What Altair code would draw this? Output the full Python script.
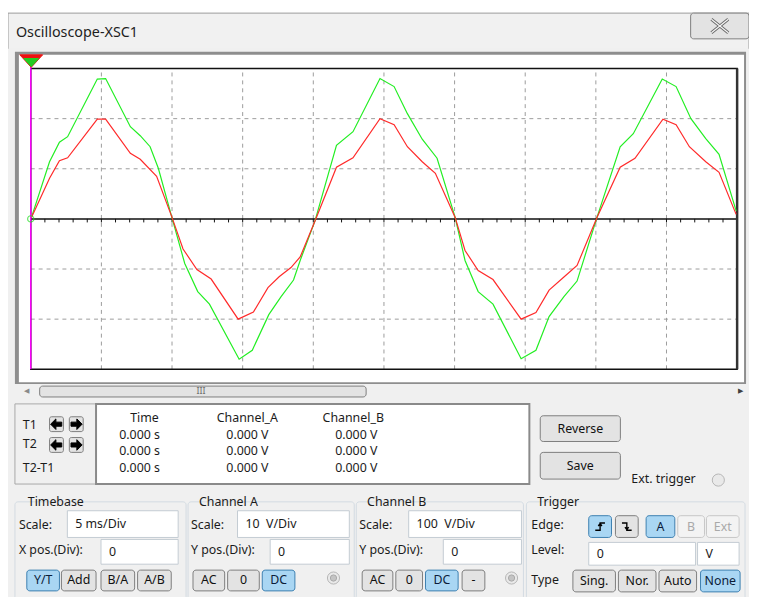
import altair as alt
import pandas as pd

# ---------------- waveform readings (time in ms, value in divisions) -------------
# Channel A (red trace)
t_a = [0.05, 1.33, 2.03, 2.61, 4.71, 5.30, 7.05, 7.75, 8.91, 9.96,
       10.78, 11.76, 12.77, 14.68, 15.76, 16.79, 17.60, 18.42, 19.07, 20.12,
       21.64, 22.81, 24.72, 25.72, 26.66, 27.71, 28.64, 30.04,
       30.74, 31.67, 32.72, 34.71, 35.76, 36.69, 37.74, 38.67, 40.08,
       41.72, 42.77, 44.75, 45.68, 46.62, 47.78, 48.72, 49.93]
v_a = [0.03, 0.81, 1.16, 1.22, 1.99, 1.99, 1.31, 1.19, 0.85, 0.06,
       -0.60, -1.01, -1.20, -2.00, -1.86, -1.37, -1.15, -0.97, -0.76, -0.04,
       1.03, 1.22, 2.00, 1.88, 1.44, 1.14, 0.91, 0.03,
       -0.63, -1.03, -1.21, -2.00, -1.87, -1.42, -1.16, -0.93, 0.03,
       1.03, 1.21, 1.99, 1.88, 1.44, 1.14, 0.93, 0.09]
# Channel B (green trace)
t_b = [0.05, 1.33, 2.03, 2.61, 4.71, 5.30, 7.05, 7.75, 8.45, 9.03, 9.96,
       10.90, 11.82, 12.65, 14.75, 15.68, 16.85, 17.72, 18.60, 19.07, 20.12,
       21.64, 22.81, 24.72, 25.72, 26.66, 27.71, 28.76, 30.04,
       30.74, 31.67, 32.72, 34.71, 35.76, 36.69, 37.74, 38.67, 40.08,
       41.72, 42.65, 44.70, 45.68, 46.73, 47.78, 48.72, 49.93]
v_b = [0.03, 1.14, 1.53, 1.64, 2.79, 2.80, 1.84, 1.66, 1.44, 1.01, 0.06,
       -0.89, -1.45, -1.70, -2.80, -2.62, -1.91, -1.55, -1.22, -0.83, -0.04,
       1.47, 1.74, 2.80, 2.64, 2.10, 1.59, 1.21, 0.03,
       -0.83, -1.45, -1.70, -2.79, -2.62, -1.95, -1.55, -1.24, 0.03,
       1.44, 1.70, 2.79, 2.64, 2.00, 1.60, 1.29, 0.16]

grid_t = [5, 10, 15, 20, 25, 30, 35, 40, 45]
grid_v = [-2, -1, 1, 2]
tick_t = list(range(0, 51))

# readout table text
col_heads = ["Time", "Channel_A", "Channel_B"]
row_time = ["0.000 s", "0.000 s", "0.000 s"]
row_a = ["0.000 V", "0.000 V", "0.000 V"]
row_b = ["0.000 V", "0.000 V", "0.000 V"]

NB = "\u00a0"

# ---------------- geometry --------------------------------------------------------
W, H = 749, 589
OFF = 8
PX0, PX1 = 31 - OFF, 745 - OFF
PY0 = 218 - OFF
PPD = 304 / 6.0
PPM = (PX1 - PX0) / 50.0
xs = alt.Scale(domain=[-PX0 / PPM, 50 + (W - PX1) / PPM], nice=False, zero=False)
ys = alt.Scale(domain=[-(H - PY0) / PPD, PY0 / PPD], nice=False, zero=False)
FONT = "Noto Sans"

rects, brects, texts, ctexts = [], [], [], []


def R(x1, y1, x2, y2, fill, stroke="transparent", sw=1, lst=None):
    (rects if lst is None else lst).append(dict(x=x1 - OFF, x2=x2 - OFF, y=y1 - OFF, y2=y2 - OFF,
                                                fill=fill, stroke=stroke, sw=sw))


def T(x, y, s, color="#1b1b1b", size=12.5, center=False):
    (ctexts if center else texts).append(dict(x=x - OFF, y=y - OFF, text=s, color=color, size=size))


def B(x1, y1, x2, y2, label, state="n"):
    fill, stroke, tc = {"n": ("#e3e3e3", "#7d7d7d", "#111111"),
                        "on": ("#a9d6f3", "#3d7fb0", "#0b1c3a"),
                        "off": ("#f3f3f3", "#c6c6c6", "#a9a9a9")}[state]
    R(x1, y1, x2, y2, fill, stroke, 1, brects)
    if label:
        T((x1 + x2) / 2, (y1 + y2) / 2, label, tc, 12.5, center=True)


# window chrome
R(8, 10, 757, 48, "#f1f1f1", "#9a9a9a")
R(8, 46, 757, 605, "#f0f0f0")
R(15, 49, 754, 385, "#8e8e8e")
R(19, 52, 752, 383, "#ffffff")
R(20, 386, 752, 400, "#f0f0f0")
# readout panel
R(15, 405, 97, 486, "#f0f0f0", "#a8a8a8")
R(97, 405, 535, 486, "#ffffff", "#8a8a8a", 2)
# group boxes
for gx1, gx2 in [(15, 188), (190, 358), (360, 529), (532, 753)]:
    R(gx1, 504, gx2, 603, "transparent", "#d2dbe2", 1, brects)
# group labels backgrounds
for lx1, lx2 in [(25, 90), (198, 270), (368, 440), (540, 590)]:
    R(lx1, 497, lx2, 511, "#f0f0f0")
# inputs
inputs = [(68, 513, 180, 540, "5 ms/Div"), (102, 542, 180, 567, "0"),
          (240, 513, 353, 540, "10" + NB + NB + "V/Div"), (273, 542, 353, 567, "0"),
          (413, 513, 527, 540, "100" + NB + NB + "V/Div"), (448, 542, 527, 567, "0"),
          (595, 545, 703, 568, "0"), (705, 545, 747, 568, "V")]
for x1, y1, x2, y2, s in inputs:
    R(x1, y1, x2, y2, "#ffffff", "#c3cbd2")
    T(x1 + 8, (y1 + y2) / 2, s)

# close button
B(698, 10, 757, 36, "", "n")

# buttons
B(546, 417, 627, 443, "Reverse")
B(546, 454, 627, 481, "Save")
B(27, 573, 60, 594, "Y/T", "on")
B(62, 573, 97, 594, "Add")
B(102, 573, 136, 594, "B/A")
B(139, 573, 173, 594, "A/B")
B(195, 573, 227, 594, "AC")
B(230, 573, 262, 594, "0")
B(265, 573, 298, 594, "DC", "on")
B(366, 573, 397, 594, "AC")
B(400, 573, 427, 594, "0")
B(430, 573, 463, 594, "DC", "on")
B(467, 573, 490, 594, "-")
B(595, 518, 618, 540, "", "on")
B(622, 518, 645, 540, "", "n")
B(653, 518, 682, 540, "A", "on")
B(685, 518, 712, 540, "B", "off")
B(714, 518, 747, 540, "Ext", "off")
B(579, 573, 622, 595, "Sing.")
B(625, 573, 663, 595, "Nor.")
B(666, 573, 704, 595, "Auto")
B(708, 573, 748, 595, "None", "on")
# scrollbar thumb
B(40, 387, 370, 398, "", "n")

# arrow buttons (square corners)
arrow_btns = []
for ay in (418, 439):
    R(50, ay, 64, ay + 15, "#e3e3e3", "#7d7d7d", 1, arrow_btns)
    R(70, ay, 84, ay + 15, "#e3e3e3", "#7d7d7d", 1, arrow_btns)

# texts
T(16, 30, "Oscilloscope-XSC1", "#1e1e1e", 14.5)
T(23, 426, "T1")
T(23, 446, "T2")
T(23, 470, "T2-T1")
for cx, h in zip([146, 250, 357], col_heads):
    T(cx, 419, h, center=True)
for ry, a, b, c in zip([436, 453, 470], row_time, row_a, row_b):
    T(141, ry, a, center=True)
    T(250, ry, b, center=True)
    T(360, ry, c, center=True)
T(638, 481, "Ext. trigger")
T(28, 504, "Timebase")
T(201, 504, "Channel A")
T(371, 504, "Channel B")
T(543, 504, "Trigger")
for gx in (19, 193, 363):
    T(gx, 527, "Scale:")
T(19, 553, "X pos.(Div):")
T(193, 553, "Y pos.(Div):")
T(363, 553, "Y pos.(Div):")
T(537, 527, "Edge:")
T(537, 553, "Level:")
T(537, 583, "Type")
T(203, 392, "III", "#6a6a6a", 9, center=True)
T(27, 392, "◀", "#8a8a8a", 7, center=True)
T(748, 392, "▶", "#404040", 7, center=True)

px = alt.X("x:Q", scale=None, axis=None)
py = alt.Y("y:Q", scale=None, axis=None)


def rect_layer(lst, radius):
    return alt.Chart(pd.DataFrame(lst)).mark_rect(cornerRadius=radius).encode(
        x=px, x2="x2:Q", y=py, y2="y2:Q",
        fill=alt.Fill("fill:N", scale=None), stroke=alt.Stroke("stroke:N", scale=None),
        strokeWidth=alt.StrokeWidth("sw:Q", scale=None))


def text_layer(lst, align):
    return alt.Chart(pd.DataFrame(lst)).mark_text(align=align, baseline="middle", font=FONT).encode(
        x=px, y=py, text="text:N", color=alt.Color("color:N", scale=None),
        size=alt.Size("size:Q", scale=None))


def sym_layer(pts, shape, size, fill, stroke, filled=True, sw=1):
    df = pd.DataFrame([dict(x=a - OFF, y=b - OFF) for a, b in pts])
    kw = dict(shape=shape, size=size, strokeWidth=sw, opacity=1)
    if filled:
        kw.update(filled=True, fill=fill, stroke=stroke)
    else:
        kw.update(filled=False, stroke=stroke)
    return alt.Chart(df).mark_point(**kw).encode(x=px, y=py)


bg_rects = rect_layer(rects, 0)
btn_rects = rect_layer(brects, 3)
arr_rects = rect_layer(arrow_btns, 2)

# ---------------- plot area ------------------------------------------------------
X = lambda f: alt.X(f, scale=xs, axis=None)
Y = lambda f: alt.Y(f, scale=ys, axis=None)

vgrid = alt.Chart(pd.DataFrame({"t": grid_t})).mark_rule(
    color="#9c9c9c", strokeDash=[4, 4], strokeWidth=1).encode(
    x=X("t:Q"), y=alt.Y("lo:Q", scale=ys, axis=None), y2="hi:Q").transform_calculate(lo="-3", hi="3")
hgrid = alt.Chart(pd.DataFrame({"v": grid_v})).mark_rule(
    color="#9c9c9c", strokeDash=[4, 4], strokeWidth=1).encode(
    y=Y("v:Q"), x=alt.X("lo:Q", scale=xs, axis=None), x2="hi:Q").transform_calculate(lo="0", hi="50")
box = alt.Chart(pd.DataFrame({"a": [0], "b": [50], "c": [-3], "d": [3]})).mark_rect(
    fill="#ffffff", fillOpacity=0, stroke="#111111", strokeWidth=1.5).encode(
    x=X("a:Q"), x2="b:Q", y=Y("c:Q"), y2="d:Q")
redge = alt.Chart(pd.DataFrame({"a": [50], "c": [-3], "d": [3]})).mark_rule(
    color="#333333", strokeWidth=2.5).encode(x=X("a:Q"), y=Y("c:Q"), y2="d:Q")
zline = alt.Chart(pd.DataFrame({"a": [0], "b": [50], "c": [0]})).mark_rule(
    color="#111111", strokeWidth=1.5).encode(x=X("a:Q"), x2="b:Q", y=Y("c:Q"))
ticks = alt.Chart(pd.DataFrame({"t": tick_t})).mark_rule(color="#111111", strokeWidth=1).encode(
    x=X("t:Q"), y=alt.Y("lo:Q", scale=ys, axis=None), y2="hi:Q").transform_calculate(lo="-0.07", hi="0")

df_a = pd.DataFrame({"t": t_a, "v": v_a, "i": range(len(t_a))})
df_b = pd.DataFrame({"t": t_b, "v": v_b, "i": range(len(t_b))})
line_b = alt.Chart(df_b).mark_line(color="#22ee22", strokeWidth=1.2).encode(
    x=X("t:Q"), y=Y("v:Q"), order="i:Q")
line_a = alt.Chart(df_a).mark_line(color="#ff2a2a", strokeWidth=1.2).encode(
    x=X("t:Q"), y=Y("v:Q"), order="i:Q")
cursor = alt.Chart(pd.DataFrame({"a": [0], "c": [-3], "d": [3.18]})).mark_rule(
    color="#ff00ff", strokeWidth=1.5).encode(x=X("a:Q"), y=Y("c:Q"), y2="d:Q")
trig = alt.Chart(pd.DataFrame({"a": [0], "c": [0]})).mark_point(
    shape="circle", size=40, filled=False, color="#22dd22", strokeWidth=1.2).encode(x=X("a:Q"), y=Y("c:Q"))

# ---------------- glyphs ---------------------------------------------------------
tri = "M-1,-0.55 L1,-0.55 L0,0.55 Z"
larrow = "M-1,0 L-0.1,-0.9 L-0.1,-0.35 L0.9,-0.35 L0.9,0.35 L-0.1,0.35 L-0.1,0.9 Z"
rarrow = "M1,0 L0.1,-0.9 L0.1,-0.35 L-0.9,-0.35 L-0.9,0.35 L0.1,0.35 L0.1,0.9 Z"
rise = "M-0.8,0.6 L0,0.6 L0,-0.6 L0.8,-0.6 M-0.3,-0.1 L0,-0.5 L0.3,-0.1"
fall = "M-0.8,-0.6 L0,-0.6 L0,0.6 L0.8,0.6 M-0.3,0.1 L0,0.5 L0.3,0.1"
xglyph = "M-1,-0.8 L1,0.8 M-1,0.8 L1,-0.8"

glyphs = [
    sym_layer([(31.5, 58.5)], tri, 23 * 23, "#ee1111", "#ee1111"),
    sym_layer([(31.5, 60)], tri, 15 * 15, "#22cc22", "#22cc22"),
    sym_layer([(57, 425.5), (57, 446.5)], larrow, 140, "#000000", "#000000"),
    sym_layer([(77, 425.5), (77, 446.5)], rarrow, 140, "#000000", "#000000"),
    sym_layer([(606.5, 529)], rise, 150, None, "#000000", filled=False, sw=1.4),
    sym_layer([(633.5, 529)], fall, 150, None, "#000000", filled=False, sw=1.4),
    sym_layer([(727.5, 23)], xglyph, 290, None, "#6a6a6a", filled=False, sw=3),
    sym_layer([(727.5, 23)], xglyph, 290, None, "#f4f4f4", filled=False, sw=1.2),
    sym_layer([(726, 482), (337, 581), (517, 581)], "circle", 150, "#e9e9e9", "#b5b5b5"),
    sym_layer([(337, 581), (517, 581)], "circle", 40, "#c4c4c4", "#a8a8a8"),
]

chart = alt.layer(
    bg_rects, btn_rects, arr_rects,
    vgrid, hgrid, zline, ticks, box, redge, line_b, line_a, cursor, trig,
    *glyphs,
    text_layer(texts, "left"), text_layer(ctexts, "center"),
).resolve_scale(x="independent", y="independent").properties(
    width=W, height=H, autosize=alt.AutoSizeParams(type="none"), padding=0,
    background="#ffffff",
).configure_view(stroke=None)

chart.save("out.html", embed_options={"renderer": "svg", "actions": False})
